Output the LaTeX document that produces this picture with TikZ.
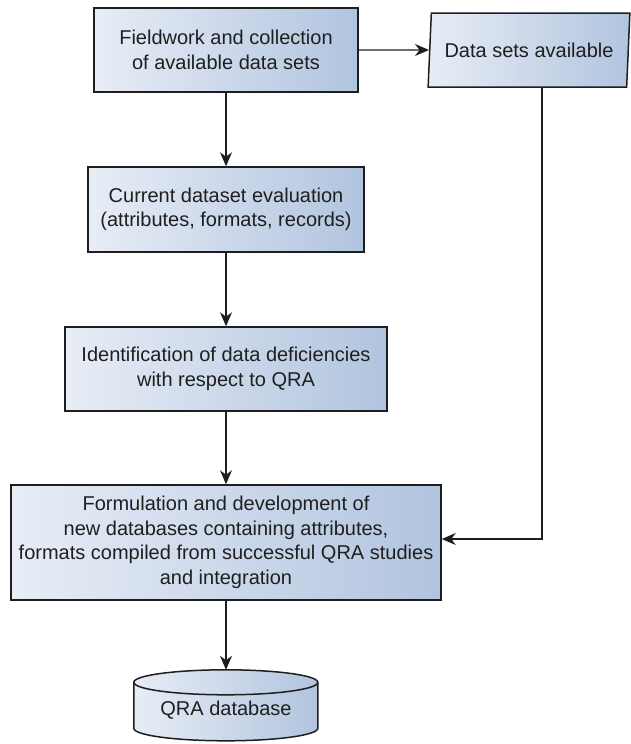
\documentclass[tikz,border=0pt]{standalone}
\usepackage{fontspec}
\setmainfont{Liberation Sans}
\usetikzlibrary{shapes.geometric,arrows.meta,calc,backgrounds}
\definecolor{boxlight}{HTML}{E8EDF6}
\definecolor{boxdark}{HTML}{B1C4DF}
\definecolor{edge}{HTML}{1E1E1E}
\begin{document}
\begin{tikzpicture}[x=1pt,y=1pt,
  every node/.style={font=\fontsize{20}{24.6}\selectfont, text=black!88},
  procbox/.style={draw=edge, line width=1.5pt, left color=boxlight, right color=boxdark,
    align=center, inner sep=0pt},
  iobox/.style={trapezium, trapezium left angle=79.3, trapezium right angle=100.7,
    trapezium stretches=true, draw=edge, line width=1.5pt,
    left color=boxlight, right color=boxdark, inner sep=0pt},
  flow/.style={draw=edge, line width=1.4pt, -{Stealth[length=14pt,width=12pt,inset=4.5pt]}}]

\useasboundingbox (0,0) rectangle (630,-744);

% process steps
\node[procbox, minimum width=264pt, minimum height=84pt] (b1) at (226,-50)
  {Fieldwork and collection\\of available data sets};
\node[procbox, minimum width=276pt, minimum height=85pt] (b2) at (226,-209.5)
  {Current dataset evaluation\\(attributes, formats, records)};
\node[procbox, minimum width=322pt, minimum height=84pt] (b3) at (226,-369)
  {Identification of data deficiencies\\with respect to QRA};
\node[procbox, minimum width=430pt, minimum height=115pt] (b4) at (226,-542.5)
  {Formulation and development of\\new databases containing attributes,\\formats compiled from successful QRA studies\\and integration};

% data input
\node[iobox, minimum width=202pt, minimum height=74pt] (avail) at (529,-50)
  {Data sets available};

% database (cylinder drawn behind its label)
\node[minimum width=184pt, minimum height=80pt, inner sep=0pt] (db) at (226,-710)
  {QRA database};
\begin{scope}[on background layer]
  \path[draw=edge, line width=1.5pt, left color=boxlight, right color=boxdark]
    ($(db.north west)+(0,-12.5)$) -- ++(0,-46)
    arc[start angle=180, end angle=360, x radius=92pt, y radius=12.5pt]
    -- ++(0,46)
    arc[start angle=0, end angle=180, x radius=92pt, y radius=12.5pt] -- cycle;
  \draw[edge, line width=1.5pt] ($(db.north west)+(0,-12.5)$)
    arc[start angle=180, end angle=360, x radius=92pt, y radius=12.5pt];
\end{scope}

% connectors
\draw[flow] (b1) -- (avail);
\draw[flow] (b1) -- (b2);
\draw[flow] (b2) -- (b3);
\draw[flow] (b3) -- (b4);
\draw[flow] (b4) -- (db);
\draw[flow] ([xshift=13pt]avail.south) |- ([yshift=3.5pt]b4.east);
\end{tikzpicture}
\end{document}
